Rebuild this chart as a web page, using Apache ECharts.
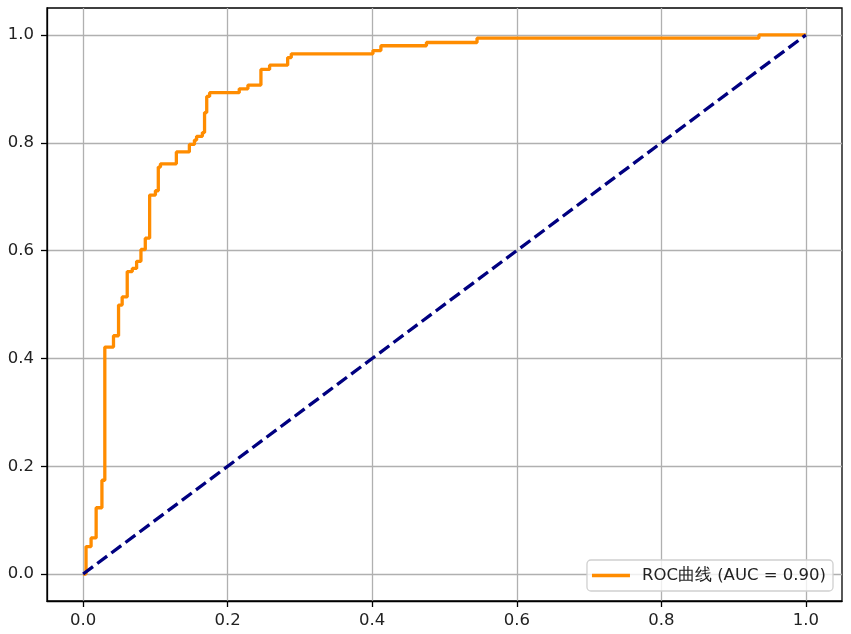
<!DOCTYPE html>
<html>
<head>
<meta charset="utf-8">
<script src="https://cdn.jsdelivr.net/npm/echarts@6/dist/echarts.min.js"></script>
<style>
  html, body { margin: 0; padding: 0; background: #fff; }
  #rocChart { width: 851px; height: 634px; }
</style>
</head>
<body>
<div id="rocChart"></div>
<script>
// ROC curve corners (false positive rate / true positive rate)
var fpr = [0, 0.004, 0.004, 0.011, 0.011, 0.018, 0.018, 0.026, 0.026, 0.030, 0.030,
  0.042, 0.042, 0.049, 0.049, 0.054, 0.054, 0.061, 0.061, 0.068, 0.068, 0.074, 0.074,
  0.080, 0.080, 0.086, 0.086, 0.092, 0.092, 0.100, 0.100, 0.104, 0.104, 0.107, 0.107,
  0.129, 0.129, 0.147, 0.147, 0.154, 0.154, 0.157, 0.157, 0.165, 0.165, 0.168, 0.168,
  0.171, 0.171, 0.175, 0.175, 0.216, 0.216, 0.228, 0.228, 0.246, 0.246, 0.258, 0.258,
  0.283, 0.283, 0.288, 0.288, 0.401, 0.401, 0.412, 0.412, 0.475, 0.475, 0.545, 0.545,
  0.935, 0.935, 1.0];
var tpr = [0, 0, 0.051, 0.051, 0.067, 0.067, 0.123, 0.123, 0.174, 0.174, 0.421,
  0.421, 0.442, 0.442, 0.499, 0.499, 0.514, 0.514, 0.561, 0.561, 0.567, 0.567, 0.580,
  0.580, 0.602, 0.602, 0.623, 0.623, 0.703, 0.703, 0.711, 0.711, 0.755, 0.755, 0.761,
  0.761, 0.783, 0.783, 0.797, 0.797, 0.805, 0.805, 0.812, 0.812, 0.819, 0.819, 0.856,
  0.856, 0.886, 0.886, 0.893, 0.893, 0.900, 0.900, 0.907, 0.907, 0.936, 0.936, 0.944,
  0.944, 0.958, 0.958, 0.965, 0.965, 0.971, 0.971, 0.980, 0.980, 0.986, 0.986, 0.994,
  0.994, 1.0, 1.0];
var diagX = [0, 1];
var diagY = [0, 1];
var tickValues = [0, 0.2, 0.4, 0.6, 0.8, 1.0];
var rocName = 'ROC曲线 (AUC = 0.90)';

var rocData = fpr.map(function (x, i) { return [x, tpr[i]]; });
var diagData = diagX.map(function (x, i) { return [x, diagY[i]]; });

var dom = document.getElementById('rocChart');
var myChart = echarts.init(dom, null, { renderer: 'canvas' });

function makeAxis(labelMargin) {
  return {
    type: 'value',
    min: -0.05,
    max: 1.05,
    axisLine: { show: true, onZero: false, lineStyle: { color: '#000', width: 1.3 } },
    axisTick: { show: true, inside: false, length: 6, customValues: tickValues,
      lineStyle: { color: '#000', width: 1.3 } },
    axisLabel: { show: true, customValues: tickValues, margin: labelMargin, color: '#222',
      fontFamily: 'DejaVu Sans', fontSize: 16.5,
      formatter: function (v) { return v.toFixed(1); } },
    splitLine: { show: true, lineStyle: { color: '#b0b0b0', width: 1.3 } }
  };
}

var option = {
  animation: false,
  backgroundColor: '#fff',
  grid: {
    left: 47, top: 8, width: 795, height: 593,
    show: true, borderColor: '#000', borderWidth: 1.3, backgroundColor: 'transparent'
  },
  xAxis: makeAxis(11),
  yAxis: makeAxis(13),
  legend: {
    data: [{ name: rocName, icon: 'rect' }],
    right: 18,
    bottom: 43,
    orient: 'vertical',
    itemWidth: 38,
    itemHeight: 3.3,
    itemGap: 0,
    padding: [7, 7, 7, 5],
    backgroundColor: 'rgba(255,255,255,0.8)',
    borderColor: '#d0d0d0',
    borderWidth: 1.3,
    borderRadius: 4,
    textStyle: { fontFamily: 'DejaVu Sans', fontSize: 16.5, color: '#222', padding: [0, 0, 0, 7] }
  },
  series: [
    {
      name: rocName,
      type: 'line',
      data: rocData,
      symbol: 'none',
      lineStyle: { color: '#ff8c00', width: 3.3 },
      itemStyle: { color: '#ff8c00' },
      z: 2
    },
    {
      name: 'diagonal',
      type: 'line',
      data: diagData,
      symbol: 'none',
      lineStyle: { color: '#000080', width: 3.3, type: [12.3, 5.3] },
      itemStyle: { color: '#000080' },
      z: 3
    }
  ]
};

if (option && typeof option === 'object') {
  myChart.setOption(option, true);
}
</script>
</body>
</html>
